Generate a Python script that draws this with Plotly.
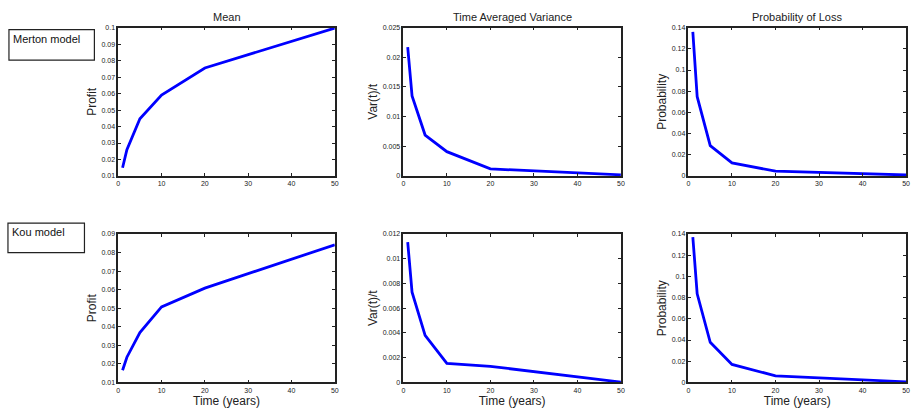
import plotly.graph_objects as go

years = [1, 2, 5, 10, 20, 50]
merton_mean = [0.015, 0.0259, 0.0447, 0.0591, 0.0755, 0.0997]
merton_var = [0.0217, 0.0135, 0.0069, 0.0041, 0.0012, 0.0002]
merton_prob = [0.136, 0.0748, 0.0287, 0.0124, 0.0046, 0.001]
kou_mean = [0.0166, 0.0236, 0.0369, 0.0507, 0.0608, 0.0842]
kou_var = [0.01134, 0.0073, 0.0038, 0.00154, 0.0013, 0.00003]
kou_prob = [0.137, 0.0836, 0.0378, 0.017, 0.0062, 0.0006]

col_titles = ["Mean", "Time Averaged Variance", "Probability of Loss"]
y_titles = ["Profit", "Var(t)/t", "Probability"]
row_labels = ["Merton model", "Kou model"]
x_title = "Time (years)"

series = [merton_mean, merton_var, merton_prob, kou_mean, kou_var, kou_prob]
y_ranges = [(0.01, 0.1, 0.01), (0, 0.025, 0.005), (0, 0.14, 0.02),
            (0.01, 0.09, 0.01), (0, 0.012, 0.002), (0, 0.14, 0.02)]

W, H = 916, 410
FONT = "Arial, Liberation Sans, Helvetica, sans-serif"
xpix = [(117, 335), (404, 623), (691, 910)]
ypix = [(24, 175), (234, 385)]

fig = go.Figure()
layout = {}
for i, ys in enumerate(series):
    r, c = divmod(i, 3)
    n = i + 1
    xa = "x" if n == 1 else f"x{n}"
    ya = "y" if n == 1 else f"y{n}"
    fig.add_trace(go.Scatter(x=years, y=ys, mode="lines", xaxis=xa, yaxis=ya,
                             line=dict(color="#0000FF", width=2.8), showlegend=False))
    x0, x1 = xpix[c]
    y0, y1 = ypix[r]
    lo, hi, dt = y_ranges[i]
    axis_common = dict(showline=True, linecolor="#222", linewidth=1.5, mirror="ticks",
                       ticks="inside", ticklen=3, tickcolor="#222", showgrid=False,
                       zeroline=False, tickfont=dict(family=FONT, size=7, color="#222"))
    layout[f"xaxis{n if n > 1 else ''}"] = dict(
        domain=[x0 / W, x1 / W], anchor=ya, range=[0, 50], tickmode="linear",
        tick0=0, dtick=10,
        title=dict(text=x_title if r == 1 else "", font=dict(family=FONT, size=12, color="#222"), standoff=2),
        **axis_common)
    layout[f"yaxis{n if n > 1 else ''}"] = dict(
        domain=[1 - y1 / H, 1 - y0 / H], anchor=xa, range=[lo, hi], tickmode="linear",
        tick0=lo, dtick=dt,
        title=dict(text=y_titles[c], font=dict(family=FONT, size=12, color="#222"), standoff=2),
        **axis_common)

annotations = []
for c, t in enumerate(col_titles):
    x0, x1 = xpix[c]
    annotations.append(dict(text=t, x=(x0 + x1) / 2 / W, y=1 - 13 / H, xref="paper", yref="paper",
                            xanchor="center", yanchor="middle", showarrow=False,
                            font=dict(family=FONT, size=11, color="#222")))
boxes = [(7, 26, 93, 57), (6, 223, 83, 253)]
shapes = []
for (bx0, by0, bx1, by1), lab in zip(boxes, row_labels):
    shapes.append(dict(type="rect", xref="paper", yref="paper",
                       x0=bx0 / W, x1=bx1 / W, y0=1 - by1 / H, y1=1 - by0 / H,
                       line=dict(color="#222", width=1.2), fillcolor="rgba(0,0,0,0)"))
    annotations.append(dict(text=lab, x=(bx0 + 2) / W, y=1 - (by0 + 1) / H, xref="paper", yref="paper",
                            xanchor="left", yanchor="top", showarrow=False, align="left",
                            font=dict(family=FONT, size=11, color="#111")))

fig.update_layout(width=W, height=H, margin=dict(l=0, r=0, t=0, b=0),
                  plot_bgcolor="white", paper_bgcolor="white",
                  annotations=annotations, shapes=shapes, **layout)
fig.write_html("out.html")
